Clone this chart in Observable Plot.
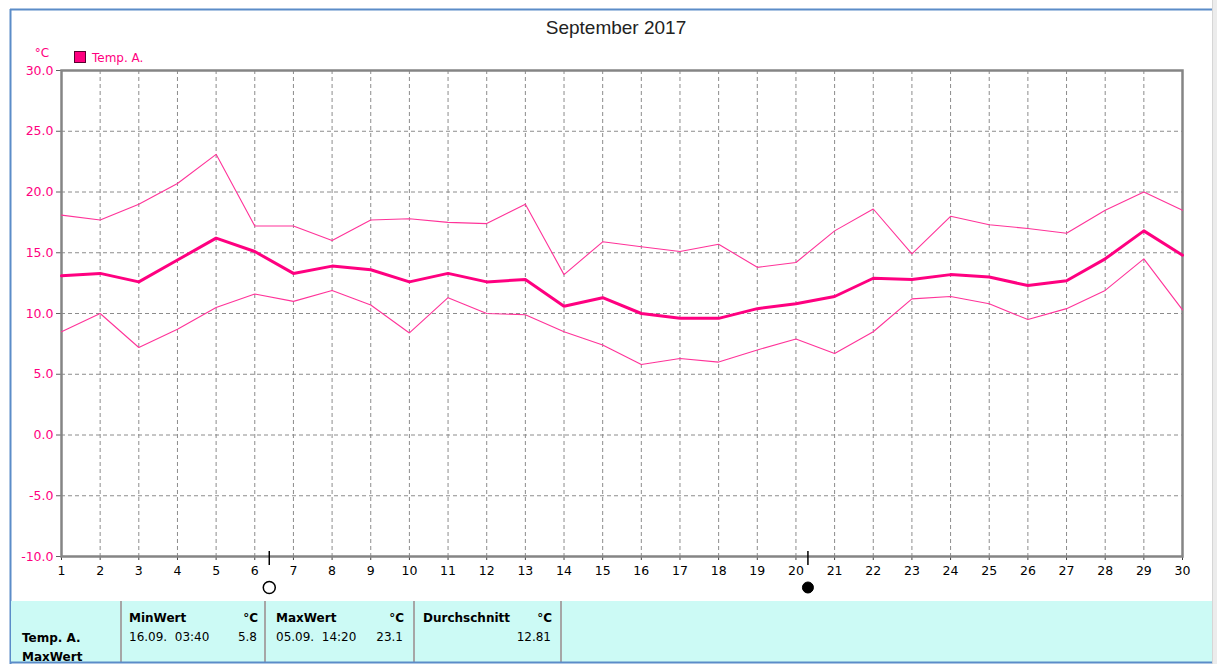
<!DOCTYPE html>
<html>
<head>
<meta charset="utf-8">
<script src="https://cdn.jsdelivr.net/npm/d3@7"></script>
<script src="https://cdn.jsdelivr.net/npm/@observablehq/plot@0.6"></script>
<style>
  html, body { margin: 0; padding: 0; background: #fff; }
  #wrap { position: relative; width: 1217px; height: 664px; overflow: hidden; }
  #chart { position: absolute; left: 0; top: 0; }
  #chart svg text { font-size: 12.5px !important; font-family: "DejaVu Sans", sans-serif !important; }
  #overlay { position: absolute; left: 0; top: 0; pointer-events: none; }
</style>
</head>
<body>
<div id="wrap">
  <div id="chart"></div>
  <svg id="overlay" width="1217" height="664"></svg>
</div>
<script>
// ---- data ----
const title = "September 2017";
const seriesName = "Temp. A.";
const unit = "°C";
const days = [1,2,3,4,5,6,7,8,9,10,11,12,13,14,15,16,17,18,19,20,21,22,23,24,25,26,27,28,29,30];
const maxTemps  = [18.1,17.7,19.0,20.7,23.1,17.2,17.2,16.0,17.7,17.8,17.5,17.4,19.0,13.2,15.9,15.5,15.1,15.7,13.8,14.2,16.8,18.6,14.9,18.0,17.3,17.0,16.6,18.5,20.0,18.5];
const meanTemps = [13.1,13.3,12.6,14.4,16.2,15.1,13.3,13.9,13.6,12.6,13.3,12.6,12.8,10.6,11.3,10.0,9.6,9.6,10.4,10.8,11.4,12.9,12.8,13.2,13.0,12.3,12.7,14.5,16.8,14.8];
const minTemps  = [8.5,10.0,7.2,8.7,10.5,11.6,11.0,11.9,10.7,8.4,11.3,10.0,9.9,8.5,7.4,5.8,6.3,6.0,7.0,7.9,6.7,8.5,11.2,11.4,10.8,9.5,10.4,11.9,14.5,10.3];
const yTicks = [-10,-5,0,5,10,15,20,25,30];
const moonDays = [6.375, 20.31];
const moonPhases = ["full", "new"];
const tableHeaders = ["MinWert", "MaxWert", "Durchschnitt"];
const tableTimes = ["16.09.  03:40", "05.09.  14:20", ""];
const tableValues = ["5.8", "23.1", "12.81"];
const rowLabels = ["Temp. A.", "MaxWert"];

// ---- chart ----
const pink = "#ff0080";
const thinPink = "#ff3399";
const gridColor = "#8c8c8c";

const toRows = vals => days.map((d, i) => ({day: d, temp: vals[i]}));
const moons = moonDays.map((d, i) => ({day: d, phase: moonPhases[i]}));

const chart = Plot.plot({
  width: 1217,
  height: 600,
  marginLeft: 61,
  marginRight: 35,
  marginTop: 70,
  marginBottom: 44,
  x: {domain: [days[0], days[days.length - 1]]},
  y: {domain: [yTicks[0], yTicks[yTicks.length - 1]]},
  style: {fontFamily: "DejaVu Sans", fontSize: "12px", background: "transparent", overflow: "visible"},
  marks: [
    Plot.ruleX(days.slice(1, -1), {stroke: gridColor, strokeDasharray: "4,3", strokeWidth: 1}),
    Plot.ruleY(yTicks.slice(1, -1), {stroke: gridColor, strokeDasharray: "4,3", strokeWidth: 1}),
    Plot.axisY({ticks: yTicks, tickFormat: d => d.toFixed(1), tickSize: 5, tickPadding: 3, fill: pink, stroke: "#606060", label: null}),
    Plot.axisX({ticks: days, tickFormat: d => String(d), tickSize: 4, tickPadding: 6, fill: "#000", stroke: "#404040", label: null}),
    Plot.frame({stroke: "#858585", strokeWidth: 2.5}),
    Plot.line(toRows(maxTemps), {x: "day", y: "temp", stroke: thinPink, strokeWidth: 1.1}),
    Plot.line(toRows(minTemps), {x: "day", y: "temp", stroke: thinPink, strokeWidth: 1.1}),
    Plot.line(toRows(meanTemps), {x: "day", y: "temp", stroke: pink, strokeWidth: 3}),
    Plot.ruleX(moons, {x: "day", insetTop: 481, insetBottom: -9, stroke: "#000", strokeWidth: 1.5}),
    Plot.dot(moons.filter(m => m.phase === "full"), {x: "day", frameAnchor: "bottom", dy: 31, r: 6, fill: "#fff", stroke: "#000", strokeWidth: 1.5}),
    Plot.dot(moons.filter(m => m.phase === "new"), {x: "day", frameAnchor: "bottom", dy: 31, r: 5.5, fill: "#000", stroke: "#000", strokeWidth: 1})
  ]
});
document.getElementById("chart").appendChild(chart);

// ---- decorations ----
const svg = d3.select("#overlay");
const blue = "#5b8cc8";

// window borders
svg.append("rect").attr("x", 1212).attr("y", 0).attr("width", 5).attr("height", 664).attr("fill", "#ececec");
svg.append("line").attr("x1", 1212.5).attr("x2", 1212.5).attr("y1", 0).attr("y2", 664).attr("stroke", "#d6d6d6");
svg.append("line").attr("x1", 10).attr("x2", 1212).attr("y1", 9.5).attr("y2", 9.5).attr("stroke", blue).attr("stroke-width", 2);
svg.append("line").attr("x1", 10.5).attr("x2", 10.5).attr("y1", 9).attr("y2", 664).attr("stroke", blue).attr("stroke-width", 2);

// title
svg.append("text").attr("x", 616).attr("y", 34).attr("text-anchor", "middle")
  .attr("font-family", "Liberation Sans, Arial, sans-serif").attr("font-size", 19).attr("fill", "#222")
  .text(title);

// unit label and legend
svg.append("text").attr("x", 42).attr("y", 57).attr("text-anchor", "middle")
  .attr("font-family", "DejaVu Sans").attr("font-size", 12).attr("fill", pink).text(unit);
svg.append("rect").attr("x", 74.5).attr("y", 51.5).attr("width", 11).attr("height", 11)
  .attr("fill", pink).attr("stroke", "#5a0030");
svg.append("text").attr("x", 92).attr("y", 62)
  .attr("font-family", "DejaVu Sans").attr("font-size", 12).attr("fill", pink).text(seriesName);

// statistics table
const table = svg.append("g");
table.append("clipPath").attr("id", "tclip").append("rect")
  .attr("x", 11).attr("y", 601).attr("width", 1201).attr("height", 61);
const tg = table.append("g").attr("clip-path", "url(#tclip)");
tg.append("rect").attr("x", 11).attr("y", 601).attr("width", 1201).attr("height", 61).attr("fill", "#ccfaf5");
const seps = [121, 265, 414, 561];
seps.forEach(x => tg.append("line").attr("x1", x).attr("x2", x).attr("y1", 601).attr("y2", 664)
  .attr("stroke", "#a6a6a6").attr("stroke-width", 2));
const colStarts = [129, 276, 423];
const colEnds = [258, 404, 552];
const font = "DejaVu Sans";
tableHeaders.forEach((h, i) => {
  tg.append("text").attr("x", colStarts[i]).attr("y", 622).attr("font-family", font)
    .attr("font-weight", "bold").attr("font-size", 12).attr("fill", "#000").text(h);
  tg.append("text").attr("x", colEnds[i]).attr("y", 622).attr("text-anchor", "end").attr("font-family", font)
    .attr("font-weight", "bold").attr("font-size", 12).attr("fill", "#000").text(unit);
  tg.append("text").attr("x", colStarts[i]).attr("y", 641).attr("font-family", font)
    .attr("font-size", 12).attr("fill", "#000").style("white-space", "pre").attr("xml:space", "preserve").text(tableTimes[i]);
  tg.append("text").attr("x", colEnds[i] - 1).attr("y", 641).attr("text-anchor", "end").attr("font-family", font)
    .attr("font-size", 12).attr("fill", "#000").text(tableValues[i]);
});
rowLabels.forEach((r, i) => {
  tg.append("text").attr("x", 22).attr("y", 642 + i * 19).attr("font-family", font)
    .attr("font-weight", "bold").attr("font-size", 12).attr("fill", "#000").text(r);
});
svg.append("line").attr("x1", 10).attr("x2", 1212).attr("y1", 662.5).attr("y2", 662.5).attr("stroke", blue).attr("stroke-width", 2);
</script>
</body>
</html>
